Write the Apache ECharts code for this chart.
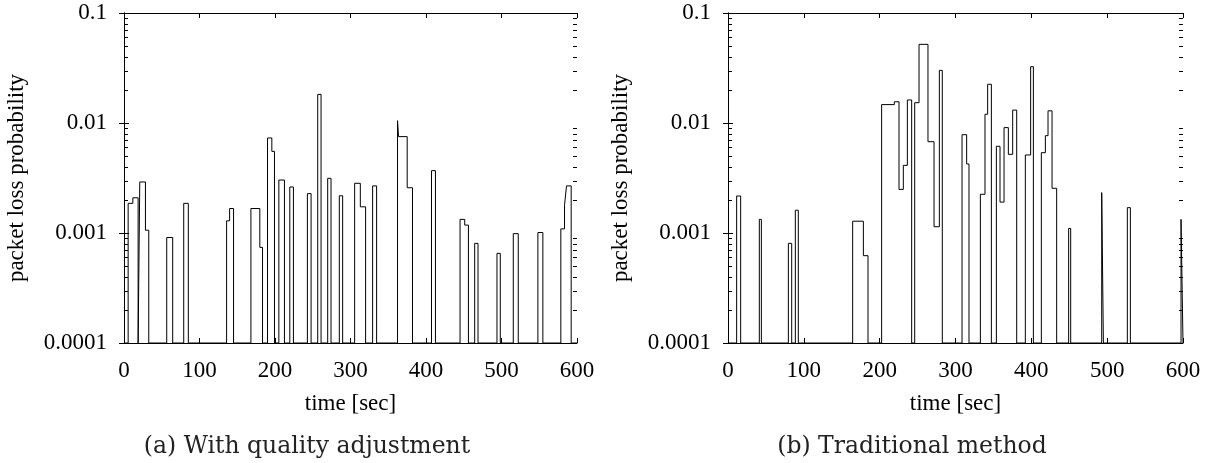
<!DOCTYPE html>
<html><head><meta charset="utf-8">
<script src="https://cdn.jsdelivr.net/npm/echarts@6/dist/echarts.min.js"></script>
<style>html,body{margin:0;padding:0;background:#fff}#c{width:1211px;height:463px}</style>
</head><body><div id="c"></div>
<script>
// ---- data ----
const yTickLabels = ['0.0001', '0.001', '0.01', '0.1'];
const xLabel = 'time [sec]';
const yLabel = 'packet loss probability';
const captions = ['(a) With quality adjustment', '(b) Traditional method'];

// (a) With quality adjustment: step segments [start, end] with loss probability
const aStart = [5.5, 11.7, 20.9, 28.4, 56.6, 79.1, 135.9, 139.9, 168.1, 179.9, 190.1, 195.8, 205.1, 219.6, 242.9, 256.6, 269.8, 285.2, 305.5, 313.0, 329.3, 362.3, 363.6, 375.1, 407.3, 445.1, 451.3, 464.5, 494.0, 515.6, 548.2, 578.6, 583.5, 586.1];
const aEnd   = [11.7, 18.7, 28.4, 32.8, 64.5, 85.2, 139.9, 145.1, 179.9, 183.5, 195.8, 199.3, 212.5, 224.4, 247.8, 261.0, 274.2, 289.6, 313.0, 320.0, 334.6, 363.6, 375.1, 382.1, 412.5, 451.3, 456.2, 468.9, 498.4, 522.2, 554.8, 583.5, 586.1, 592.3];
const aValue = [0.00186, 0.00209, 0.00291, 0.00106, 0.00091, 0.00186, 0.00129, 0.00167, 0.00167, 0.00074, 0.00731, 0.00552, 0.00303, 0.00262, 0.00228, 0.0182, 0.00314, 0.00218, 0.00283, 0.00173, 0.00268, 0.0105, 0.00752, 0.00258, 0.00369, 0.00133, 0.00118, 0.000805, 0.000653, 0.000987, 0.00101, 0.00109, 0.00179, 0.00268];

// (b) Traditional method
const bStart = [11.4, 41.3, 79.6, 88.8, 164.4, 178.5, 202.6, 219.3, 225.5, 231.2, 236.5, 246.2, 251.9, 263.7, 271.7, 278.7, 308.6, 314.7, 332.8, 338.9, 342.4, 353.9, 358.7, 364.0, 369.7, 375.4, 392.1, 399.1, 413.2, 418.5, 422.0, 427.3, 449.2, 492.8, 526.6, 597.4];
const bEnd   = [16.7, 44.0, 84.0, 92.7, 178.5, 184.6, 219.3, 225.5, 231.2, 236.5, 242.2, 251.9, 263.7, 271.7, 278.7, 282.6, 314.7, 317.8, 338.9, 342.4, 347.3, 358.7, 364.0, 369.7, 375.4, 380.7, 399.1, 402.7, 418.5, 422.0, 427.3, 433.4, 451.9, 495.0, 530.6, 600.0];
const bValue = [0.00217, 0.00133, 0.000805, 0.00161, 0.00128, 0.000622, 0.0147, 0.0156, 0.00249, 0.00412, 0.0162, 0.0153, 0.0519, 0.00676, 0.00114, 0.0301, 0.00783, 0.00424, 0.00225, 0.012, 0.0225, 0.00614, 0.00191, 0.00908, 0.00519, 0.0131, 0.00512, 0.0325, 0.00537, 0.00767, 0.0129, 0.00255, 0.0011, 0.00233, 0.0017, 0.00133];

const yMin = 0.0001, yMax = 0.1, xMin = 0, xMax = 600;

// ---- build step polylines ----
function stepPoints(starts, ends, vals) {
  const pts = [[xMin, yMin]];
  for (let i = 0; i < starts.length; i++) {
    const prevEnd = i > 0 ? ends[i - 1] : null;
    if (prevEnd === null || Math.abs(prevEnd - starts[i]) > 1e-9) {
      if (prevEnd !== null) pts.push([prevEnd, yMin]);
      pts.push([starts[i], yMin]);
    }
    pts.push([starts[i], vals[i]]);
    pts.push([ends[i], vals[i]]);
  }
  pts.push([ends[ends.length - 1], yMin]);
  pts.push([xMax, yMin]);
  return pts;
}

// log minor tick values (2..9 per decade)
const minorVals = [];
for (let d = -4; d <= -2; d++) for (let m = 2; m <= 9; m++) minorVals.push([0, m * Math.pow(10, d)]);

const FONT = '"Liberation Serif", "Times New Roman", serif';
const txt = {color: '#000', fontFamily: FONT, fontSize: 23};

function xAxes(gi) {
  return [
    {gridIndex: gi, type: 'value', position: 'bottom', min: xMin, max: xMax, interval: 100,
     name: xLabel, nameLocation: 'middle', nameGap: 49, nameTextStyle: txt,
     axisLine: {show: true, lineStyle: {color: '#000', width: 1}},
     axisTick: {show: true, inside: true, length: 5, lineStyle: {color: '#000'}},
     axisLabel: Object.assign({margin: 16}, txt), splitLine: {show: false}},
    {gridIndex: gi, type: 'value', position: 'top', min: xMin, max: xMax, interval: 100,
     axisLine: {show: true, lineStyle: {color: '#000', width: 1}},
     axisTick: {show: true, inside: true, length: 5, lineStyle: {color: '#000'}},
     axisLabel: {show: false}, splitLine: {show: false}}
  ];
}
function yAxes(gi) {
  return [
    {gridIndex: gi, type: 'log', logBase: 10, position: 'left', min: yMin, max: yMax,
     name: yLabel, nameLocation: 'middle', nameGap: 96, nameTextStyle: txt,
     axisLine: {show: true, lineStyle: {color: '#000', width: 1}},
     axisTick: {show: true, inside: true, length: 5, lineStyle: {color: '#000'}},
     axisLabel: Object.assign({margin: 17, formatter: v => yTickLabels[Math.round(Math.log10(v)) + 4]}, txt),
     splitLine: {show: false}},
    {gridIndex: gi, type: 'log', logBase: 10, position: 'right', min: yMin, max: yMax,
     axisLine: {show: true, lineStyle: {color: '#000', width: 1}},
     axisTick: {show: true, inside: true, length: 5, lineStyle: {color: '#000'}},
     axisLabel: {show: false}, splitLine: {show: false}}
  ];
}

function minorSeries(gi) {
  return {
    type: 'custom', xAxisIndex: gi * 2, yAxisIndex: gi * 2, data: minorVals, silent: true, clip: false, z: 5,
    renderItem: function (params, api) {
      const v = api.value(1);
      const pL = api.coord([xMin, v]);
      const pR = api.coord([xMax, v]);
      const yL = Math.round(pL[1]) + 0.5;
      const yR = Math.round(pR[1]) + 0.5;
      return {type: 'group', children: [
        {type: 'line', shape: {x1: pL[0], y1: yL, x2: pL[0] + 4, y2: yL}, style: {stroke: '#000', lineWidth: 1}},
        {type: 'line', shape: {x1: pR[0], y1: yR, x2: pR[0] - 4, y2: yR}, style: {stroke: '#000', lineWidth: 1}}
      ]};
    }
  };
}

const chart = echarts.init(document.getElementById('c'), null, {renderer: 'canvas'});
chart.setOption({
  animation: false,
  backgroundColor: '#fff',
  grid: [
    {left: 124, top: 13, width: 453, height: 330},
    {left: 728, top: 13, width: 455, height: 330}
  ],
  xAxis: xAxes(0).concat(xAxes(1)),
  yAxis: yAxes(0).concat(yAxes(1)),
  series: [
    {type: 'line', xAxisIndex: 0, yAxisIndex: 0, data: stepPoints(aStart, aEnd, aValue), showSymbol: false,
     lineStyle: {color: '#000', width: 1}, silent: true},
    {type: 'line', xAxisIndex: 2, yAxisIndex: 2, data: stepPoints(bStart, bEnd, bValue), showSymbol: false,
     lineStyle: {color: '#000', width: 1}, silent: true},
    minorSeries(0), minorSeries(1)
  ],
  graphic: [
    {type: 'text', x: 307, y: 447, style: {text: captions[0], fill: '#222', font: '23.5px "DejaVu Serif"', align: 'center', verticalAlign: 'middle'}},
    {type: 'text', x: 912, y: 447, style: {text: captions[1], fill: '#222', font: '23.5px "DejaVu Serif"', align: 'center', verticalAlign: 'middle'}}
  ]
});
</script></body></html>
